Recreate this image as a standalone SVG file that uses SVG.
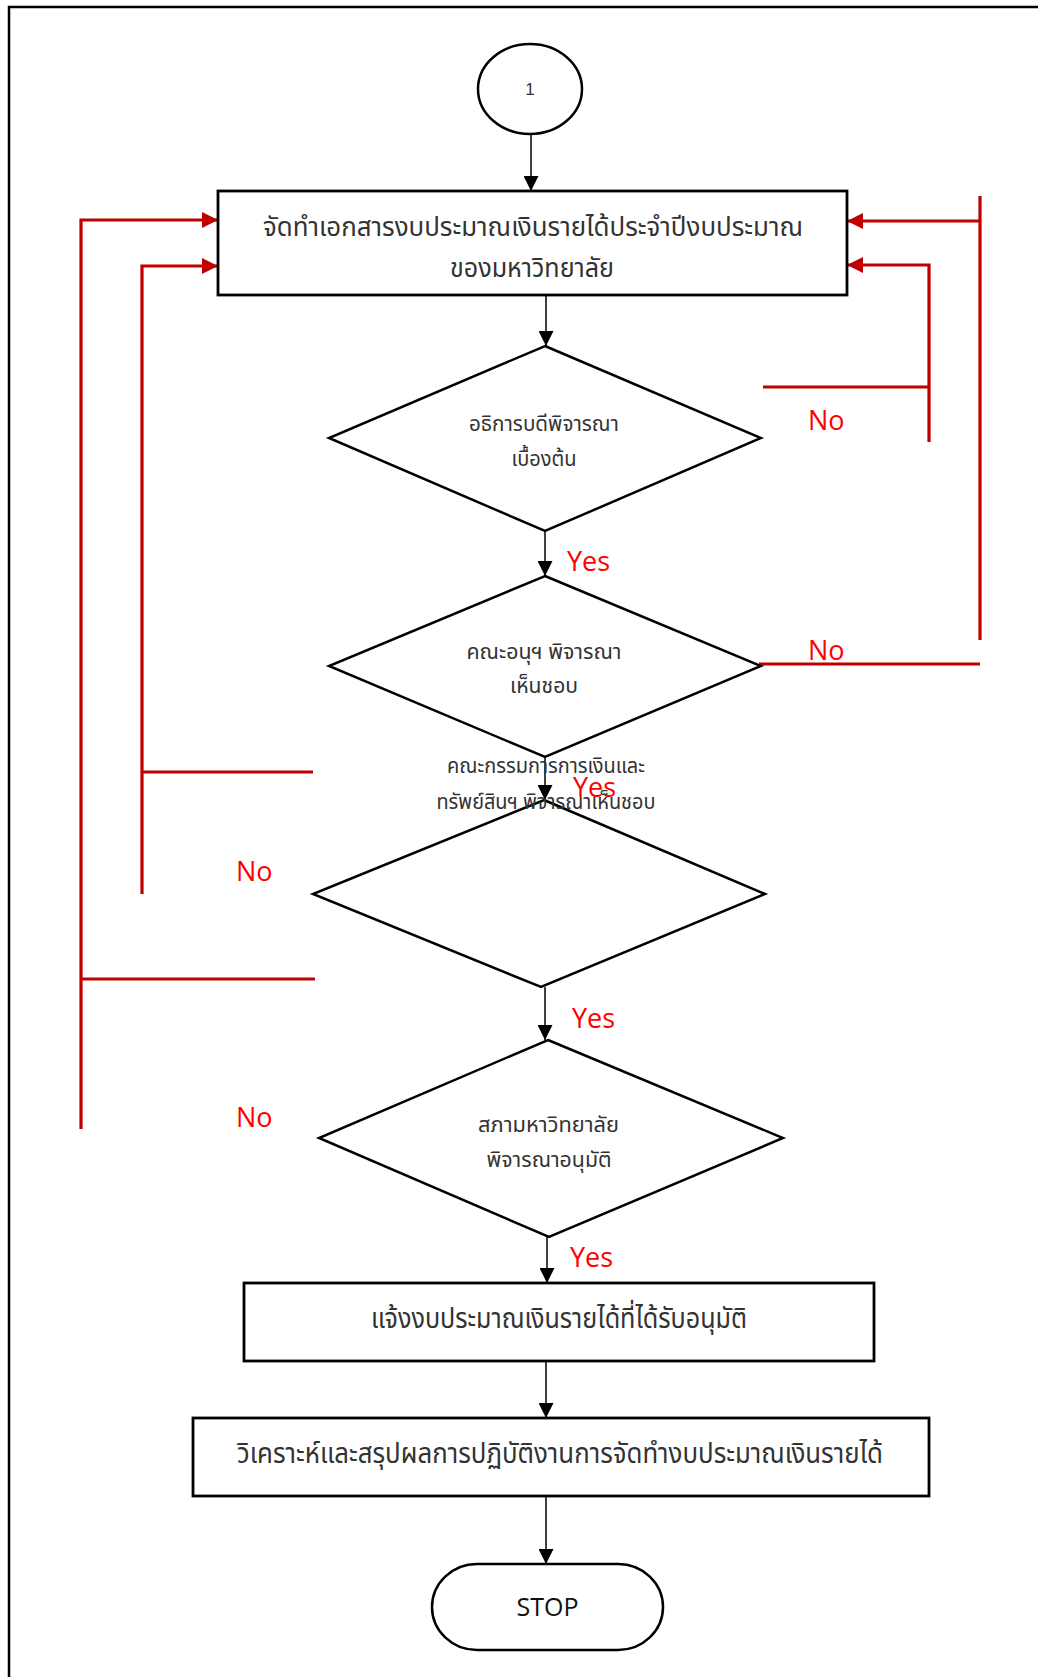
<svg xmlns="http://www.w3.org/2000/svg" width="1038" height="1677" viewBox="0 0 1038 1677">
  <style>
    .node { fill: #ffffff; stroke: #000000; stroke-width: 2.5; }
    .box { stroke-width: 2.8; }
    .flow { fill: none; stroke: #000000; stroke-width: 1.5; marker-end: url(#arrowBlack); }
    .back { fill: none; stroke: #c00000; stroke-width: 3.2; }
    .backArrow { marker-end: url(#arrowRed); }
    .th { font-family: "Noto Sans Thai", "Noto Sans", "DejaVu Sans", sans-serif; fill: #333333; text-anchor: middle; }
    .lbl { font-family: "Open Sans", "Liberation Sans", sans-serif; font-size: 27px; fill: #ff0000; }
    .term { font-family: "Open Sans", "Liberation Sans", sans-serif; fill: #111111; text-anchor: middle; }
  </style>
  <defs>
    <marker id="arrowBlack" markerUnits="userSpaceOnUse" markerWidth="15" markerHeight="15" refX="15" refY="7.5" orient="auto">
      <path d="M0,0 L15,7.5 L0,15 z" fill="#000000"/>
    </marker>
    <marker id="arrowRed" markerUnits="userSpaceOnUse" markerWidth="16" markerHeight="16" refX="16" refY="8" orient="auto">
      <path d="M0,0 L16,8 L0,16 z" fill="#c00000"/>
    </marker>
  </defs>

  <rect width="1038" height="1677" fill="#ffffff"/>
  <!-- page frame -->
  <rect x="9" y="7" width="1040" height="1690" fill="none" stroke="#000000" stroke-width="2.5"/>

  <!-- connectors -->
  <g id="connectors">
    <path class="flow" d="M531,134 V191"/>
    <path class="flow" d="M546,295 V346"/>
    <path class="flow" d="M545,531 V576"/>
    <path class="flow" d="M545,757 V800"/>
    <path class="flow" d="M545,987 V1040"/>
    <path class="flow" d="M547,1237 V1283"/>
    <path class="flow" d="M546,1361 V1418"/>
    <path class="flow" d="M546,1496 V1564"/>

    <!-- return loops (left) -->
    <path class="back backArrow" d="M81,1129 V220 H218"/>
    <path class="back" d="M81,979 H315"/>
    <path class="back backArrow" d="M142,894 V266 H218"/>
    <path class="back" d="M142,772 H313"/>

    <!-- return loops (right) -->
    <path class="back backArrow" d="M929,442 V265 H847"/>
    <path class="back" d="M763,387 H929"/>
    <path class="back" d="M980,196 V640"/>
    <path class="back backArrow" d="M980,221 H847"/>
    <path class="back" d="M759,664 H980"/>

    <!-- branch labels -->
    <text class="lbl" x="808" y="430">No</text>
    <text class="lbl" x="808" y="660">No</text>
    <text class="lbl" x="236" y="881">No</text>
    <text class="lbl" x="236" y="1127">No</text>
    <text class="lbl" x="567" y="571">Yes</text>
    <text class="lbl" x="573" y="797">Yes</text>
    <text class="lbl" x="572" y="1028">Yes</text>
    <text class="lbl" x="570" y="1267">Yes</text>
  </g>

  <g id="start">
    <ellipse class="node" cx="530" cy="89" rx="52" ry="45"/>
    <text x="530" y="95" font-family="Liberation Sans, sans-serif" font-size="17" fill="#333333" text-anchor="middle">1</text>
  </g>

  <g id="prepare">
    <rect class="node box" x="218" y="191" width="629" height="104"/>
    <text class="th" x="533" y="236" font-size="27" textLength="540" lengthAdjust="spacingAndGlyphs">จัดทำเอกสารงบประมาณเงินรายได้ประจำปีงบประมาณ</text>
    <text class="th" x="532" y="277" font-size="27" textLength="164" lengthAdjust="spacingAndGlyphs">ของมหาวิทยาลัย</text>
  </g>

  <g id="president">
    <polygon class="node" points="545,346 761,438 545,531 329,438"/>
    <text class="th" x="544" y="431" font-size="21" textLength="150" lengthAdjust="spacingAndGlyphs">อธิการบดีพิจารณา</text>
    <text class="th" x="544" y="466" font-size="21" textLength="65" lengthAdjust="spacingAndGlyphs">เบื้องต้น</text>
  </g>

  <g id="subcommittee">
    <polygon class="node" points="545,576 761,666 545,757 329,666"/>
    <text class="th" x="544" y="659" font-size="21" textLength="155" lengthAdjust="spacingAndGlyphs">คณะอนุฯ พิจารณา</text>
    <text class="th" x="544" y="693" font-size="21" textLength="68" lengthAdjust="spacingAndGlyphs">เห็นชอบ</text>
  </g>

  <g id="finance-committee">
    <polygon class="node" points="544,800 765,894 541,987 313,894"/>
    <text class="th" x="546" y="773" font-size="21" textLength="198" lengthAdjust="spacingAndGlyphs">คณะกรรมการการเงินและ</text>
    <text class="th" x="546" y="809" font-size="21" textLength="219" lengthAdjust="spacingAndGlyphs">ทรัพย์สินฯ พิจารณาเห็นชอบ</text>
  </g>

  <g id="council">
    <polygon class="node" points="548,1040 783,1138 549,1237 319,1138"/>
    <text class="th" x="548.5" y="1132" font-size="21" textLength="141" lengthAdjust="spacingAndGlyphs">สภามหาวิทยาลัย</text>
    <text class="th" x="549" y="1167" font-size="21" textLength="125" lengthAdjust="spacingAndGlyphs">พิจารณาอนุมัติ</text>
  </g>

  <g id="announce">
    <rect class="node box" x="244" y="1283" width="630" height="78"/>
    <text class="th" x="559" y="1328" font-size="28" textLength="376" lengthAdjust="spacingAndGlyphs">แจ้งงบประมาณเงินรายได้ที่ได้รับอนุมัติ</text>
  </g>

  <g id="review">
    <rect class="node box" x="193" y="1418" width="736" height="78"/>
    <text class="th" x="560" y="1463" font-size="28" textLength="646" lengthAdjust="spacingAndGlyphs">วิเคราะห์และสรุปผลการปฏิบัติงานการจัดทำงบประมาณเงินรายได้</text>
  </g>

  <g id="stop">
    <rect class="node" x="432" y="1564" width="231" height="86" rx="45" ry="43"/>
    <text class="term" x="547.5" y="1616" font-size="26" textLength="62" lengthAdjust="spacingAndGlyphs">STOP</text>
  </g>
</svg>
